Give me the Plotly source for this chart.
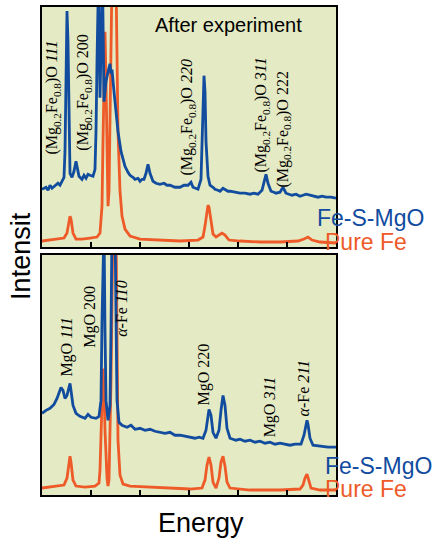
import plotly.graph_objects as go

# ---- data (energy in arbitrary units, intensity in arbitrary units) ----
top_fesmgo_x = [0, 4, 6, 8, 10, 12, 14, 16, 18, 20, 22, 23, 24, 25, 26, 27, 28, 30, 32, 34, 35, 37, 40, 42, 44, 46, 48, 51, 53, 54, 55, 56.5, 58, 60.5,
                62, 64, 66, 67, 68, 69, 70, 72, 74, 76, 79, 81, 83, 86, 88, 91, 93, 96, 98, 100, 102, 104, 106, 108, 111, 114, 118, 122, 125, 128, 133,
                138, 142, 146, 149, 151, 154, 156, 159, 160, 161, 162, 163, 164, 166, 168, 171, 173, 176, 178, 181, 183, 186, 188, 193, 198, 203, 208,
                212, 216, 220, 222, 224, 226, 229, 232, 234, 238, 241, 244, 247, 250, 254, 258, 261, 264, 268, 272, 276, 280, 284, 289, 294]
top_fesmgo_y = [58, 60, 57, 62, 59, 61, 63, 64, 62, 66, 70, 96, 186, 237, 206, 116, 74, 70, 76, 86, 82, 71, 68, 72, 69, 73, 72, 71, 78, 116, 186, 270, 150, 270,
                146, 166, 176, 182, 184, 174, 178, 156, 136, 116, 96, 88, 81, 75, 72, 70, 68, 69, 66, 68, 68, 74, 83, 74, 66, 64, 63, 64, 62, 62, 60,
                60, 62, 62, 65, 60, 59, 58, 68, 106, 146, 172, 156, 106, 71, 62, 60, 58, 57, 56, 59, 58, 56, 56, 55, 54, 54, 53,
                54, 53, 57, 66, 73, 64, 56, 55, 54, 55, 60, 54, 53, 52, 53, 51, 52, 53, 52, 51, 50, 51, 50, 50, 49]

top_purefe_x = [0, 8, 16, 22, 25, 27, 28, 29, 31, 34, 40, 48, 55, 58, 60, 61, 62, 63, 64, 65, 66, 67, 68, 69, 70, 74, 75, 76, 78, 80, 83, 88, 98,
                118, 138, 156, 161, 163, 165, 166, 167, 169, 171, 174, 177, 180, 183, 187, 198, 218, 238, 256, 262, 266, 270, 278, 294]
top_purefe_y = [6, 7, 8, 9, 14, 26, 31, 28, 14, 8, 8, 9, 10, 14, 41, 106, 186, 216, 166, 76, 41, 56, 116, 196, 270, 270, 186, 116, 56, 31, 18, 11, 8,
                7, 6, 7, 10, 21, 36, 42, 40, 24, 13, 10, 12, 14, 12, 7, 6, 5, 5, 6, 8, 10, 7, 5, 4]

bot_fesmgo_x = [0, 4, 8, 12, 15, 17, 19, 21, 23, 25, 27, 28, 29, 31, 34, 38, 43, 46, 49, 54, 57, 59, 60, 61, 62, 63, 64, 66, 68, 69, 70, 73, 74, 75,
                77, 80, 85, 89, 93, 98, 103, 108, 113, 118, 123, 128, 133, 138, 143, 148, 153, 157, 161, 164, 166, 167, 169, 171, 174, 177, 179, 181,
                183, 185, 188, 194, 198, 203, 208, 213, 218, 223, 228, 233, 238, 243, 248, 253, 259, 262, 264, 265, 266, 268, 271, 278, 286, 294]
bot_fesmgo_y = [82, 85, 87, 91, 97, 103, 108, 105, 97, 100, 108, 112, 105, 90, 82, 79, 77, 81, 78, 77, 79, 95, 175, 270, 270, 165, 95, 75, 90, 165, 270, 270, 165, 95,
                73, 70, 68, 70, 66, 67, 65, 66, 64, 63, 62, 63, 60, 60, 59, 58, 57, 58, 57, 65, 80, 86, 80, 63, 57, 65, 85, 100,
                90, 67, 57, 55, 56, 54, 55, 53, 54, 52, 53, 51, 52, 51, 50, 51, 51, 60, 71, 75, 71, 57, 50, 49, 48, 48]

bot_purefe_x = [0, 8, 16, 22, 25, 27, 28, 29, 31, 34, 43, 53, 57, 58, 59, 60, 61, 62, 63, 65, 66, 67, 68, 69, 70, 71, 74, 75, 76, 78, 81, 88, 108,
                128, 148, 160, 163, 165, 167, 169, 171, 174, 177, 179, 181, 183, 185, 188, 208, 238, 258, 261, 263, 265, 267, 269, 278, 294]
bot_purefe_y = [7, 8, 9, 10, 17, 33, 39, 33, 15, 9, 8, 9, 12, 25, 65, 115, 127, 110, 65, 17, 9, 15, 55, 115, 195, 270, 270, 115, 55, 20, 11, 9, 8,
                7, 6, 7, 15, 30, 38, 30, 13, 7, 17, 33, 39, 29, 13, 7, 5, 5, 6, 10, 17, 21, 15, 7, 5, 5]

top_labels = ["(Mg<sub>0.2</sub>Fe<sub>0.8</sub>)O <i>111</i>",
              "(Mg<sub>0.2</sub>Fe<sub>0.8</sub>)O 200",
              "(Mg<sub>0.2</sub>Fe<sub>0.8</sub>)O <i>220</i>",
              "(Mg<sub>0.2</sub>Fe<sub>0.8</sub>)O <i>311</i>",
              "(Mg<sub>0.2</sub>Fe<sub>0.8</sub>)O 222"]
top_label_x = [11, 42, 146, 220, 241]
top_label_y = [150, 155, 130, 132, 118]

bot_labels = ["MgO <i>111</i>", "MgO 200", "<i>α</i>-Fe <i>110</i>",
              "MgO 220", "MgO <i>311</i>", "<i>α</i>-Fe <i>211</i>"]
bot_label_x = [25, 48, 80, 162, 228, 261]
bot_label_y = [148, 179, 187, 121, 88, 107]

series_names = ["Fe-S-MgO", "Pure Fe"]
tick_positions = [49, 98, 147, 196, 245]

BLUE = "#114c9f"
ORANGE = "#ee5a28"
BG = "#e4eac3"

fig = go.Figure()
fig.add_trace(go.Scatter(x=top_purefe_x, y=top_purefe_y, mode="lines", line=dict(color=ORANGE, width=2.8),
                         xaxis="x2", yaxis="y2", showlegend=False))
fig.add_trace(go.Scatter(x=top_fesmgo_x, y=top_fesmgo_y, mode="lines", line=dict(color=BLUE, width=2.8),
                         xaxis="x2", yaxis="y2", showlegend=False))
fig.add_trace(go.Scatter(x=bot_purefe_x, y=bot_purefe_y, mode="lines", line=dict(color=ORANGE, width=2.8),
                         xaxis="x", yaxis="y", showlegend=False))
fig.add_trace(go.Scatter(x=bot_fesmgo_x, y=bot_fesmgo_y, mode="lines", line=dict(color=BLUE, width=2.8),
                         xaxis="x", yaxis="y", showlegend=False))

xcommon = dict(range=[0, 294], tickvals=tick_positions, ticks="inside", ticklen=5, tickwidth=1.5,
               tickcolor="black", showticklabels=False, showline=True, mirror=True, linewidth=2,
               linecolor="black", showgrid=False, zeroline=False)
ycommon = dict(range=[0, 241], showticklabels=False, ticks="", showline=True, mirror=True, linewidth=2,
               linecolor="black", showgrid=False, zeroline=False)

annotations = []
serif = dict(family="Liberation Serif, Times New Roman, serif", size=16, color="black")
for t, x, y in zip(top_labels, top_label_x, top_label_y):
    annotations.append(dict(text=t, x=x, y=y, xref="x2", yref="y2", textangle=-90, showarrow=False,
                            font=serif, xanchor="center", yanchor="middle"))
for t, x, y in zip(bot_labels, bot_label_x, bot_label_y):
    annotations.append(dict(text=t, x=x, y=y, xref="x", yref="y", textangle=-90, showarrow=False,
                            font=serif, xanchor="center", yanchor="middle"))

sans = "Liberation Sans, Arial, Helvetica, sans-serif"
legend_pos = [(0.928, 0.567, 0), (0.955, 0.518, 1), (0.955, 0.059, 0), (0.955, 0.012, 1)]
for x, y, i in legend_pos:
    annotations.append(dict(text=series_names[i], x=x, y=y, xref="paper", yref="paper", showarrow=False,
                            xanchor="left", yanchor="middle",
                            font=dict(family=sans, size=23, color=BLUE if i == 0 else ORANGE)))

annotations.append(dict(text="After experiment", x=0.636, y=0.963, xref="paper", yref="paper", showarrow=False,
                        xanchor="center", yanchor="middle", font=dict(family=sans, size=20, color="black")))
annotations.append(dict(text="Intensit", x=-0.0714, y=0.49, xref="paper", yref="paper", showarrow=False,
                        textangle=-90, xanchor="center", yanchor="middle",
                        font=dict(family=sans, size=27, color="black")))
annotations.append(dict(text="Energy", x=0.541, y=-0.057, xref="paper", yref="paper", showarrow=False,
                        xanchor="center", yanchor="middle", font=dict(family=sans, size=27, color="black")))

fig.update_layout(
    width=433, height=539,
    margin=dict(l=42, r=97, t=5, b=44),
    paper_bgcolor="white", plot_bgcolor=BG,
    xaxis=dict(domain=[0, 1], anchor="y", **xcommon),
    yaxis=dict(domain=[0, 0.4918], anchor="x", **ycommon),
    xaxis2=dict(domain=[0, 1], anchor="y2", **xcommon),
    yaxis2=dict(domain=[0.5082, 1], anchor="x2", **ycommon),
    annotations=annotations,
    showlegend=False,
)

fig.write_html("out.html", config={"displayModeBar": False},
               post_script="document.body.style.margin='0px';document.body.style.overflow='hidden';")
